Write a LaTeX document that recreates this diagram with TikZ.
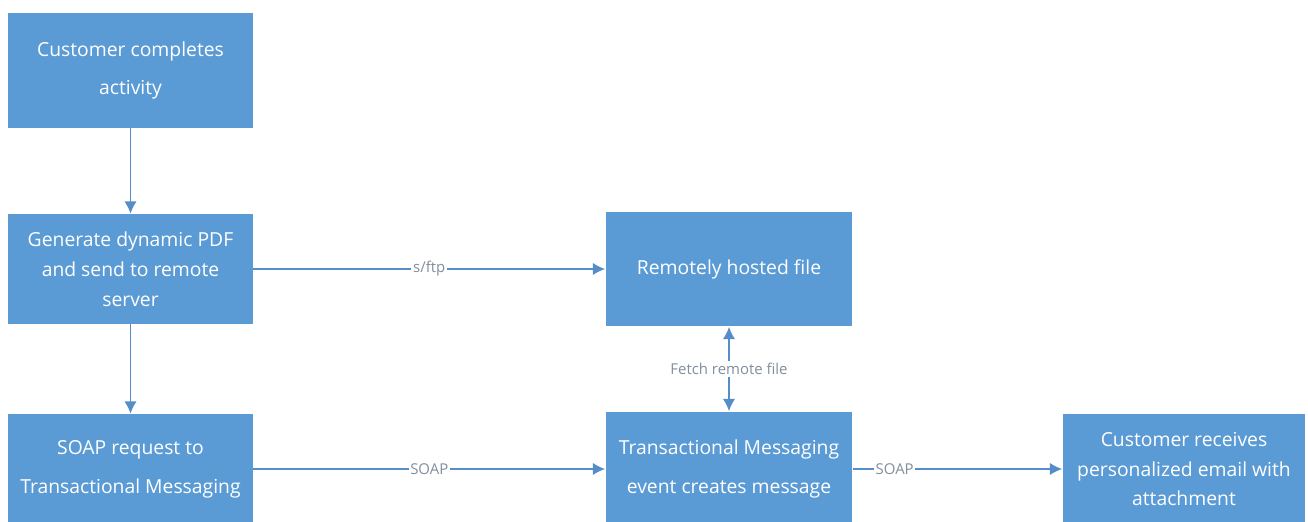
\documentclass[tikz,border=0pt]{standalone}
\usepackage{fontspec}
\setmainfont{Open Sans}
\usetikzlibrary{arrows.meta}
\definecolor{bleuboite}{RGB}{91,155,213}
\definecolor{bleufleche}{RGB}{84,141,199}
\definecolor{grisetiquette}{RGB}{130,142,158}
\begin{document}
\begin{tikzpicture}[x=0.02cm,y=-0.02cm]
	\tikzstyle{boite}=[rectangle,fill=bleuboite,text=white,align=center,inner sep=0pt,minimum width=4.9cm,font=\fontsize{11}{17}\selectfont]
	\tikzstyle{boitedeux}=[boite,font=\fontsize{11}{22}\selectfont]
	\tikzstyle{fleche}=[-{Latex[length=7pt,width=7pt]},draw=bleufleche,line width=0.9pt]
	\tikzstyle{doublefleche}=[fleche,{Latex[length=7pt,width=7pt]}-{Latex[length=7pt,width=7pt]}]
	\tikzstyle{etiquette}=[pos=0.5,fill=white,inner sep=1pt,text=grisetiquette,font=\fontsize{8.5}{10}\selectfont]
	\def\ColonneA{130.5}
	\def\ColonneB{729}
	\def\ColonneC{1184}
	\def\LigneA{70.5}
	\def\LigneB{269}
	\def\LigneC{469}
	\useasboundingbox (0,0) rectangle (1308,521);
	\node[boitedeux,minimum height=2.3cm] (Activite) at (\ColonneA,\LigneA) {Customer completes\\activity};
	\node[boite,minimum height=2.2cm] (Pdf) at (\ColonneA,\LigneB) {Generate dynamic PDF\\and send to remote\\server};
	\node[boitedeux,minimum height=2.2cm] (Soap) at (\ColonneA,\LigneC) {SOAP request to\\Transactional Messaging};
	\node[boite,minimum height=2.3cm,minimum width=4.94cm] (Fichier) at (\ColonneB,\LigneB) {Remotely hosted file};
	\node[boitedeux,minimum height=2.3cm,minimum width=4.94cm] (Evenement) at (\ColonneB,\LigneC) {Transactional Messaging\\event creates message};
	\node[boite,minimum height=2.2cm,minimum width=4.86cm] (Courriel) at (\ColonneC,\LigneC) {Customer receives\\personalized email with\\attachment};
	\draw[fleche] (Activite)--(Pdf);
	\draw[fleche] (Pdf)--(Soap);
	\draw[fleche] (Pdf)--(Fichier) node[etiquette] {s/ftp};
	\draw[fleche] (Soap)--(Evenement) node[etiquette] {SOAP};
	\draw[fleche] (Evenement)--(Courriel) node[etiquette,pos=0.2] {SOAP};
	\draw[doublefleche] (Evenement)--(Fichier) node[etiquette] {Fetch remote file};
\end{tikzpicture}
\end{document}
